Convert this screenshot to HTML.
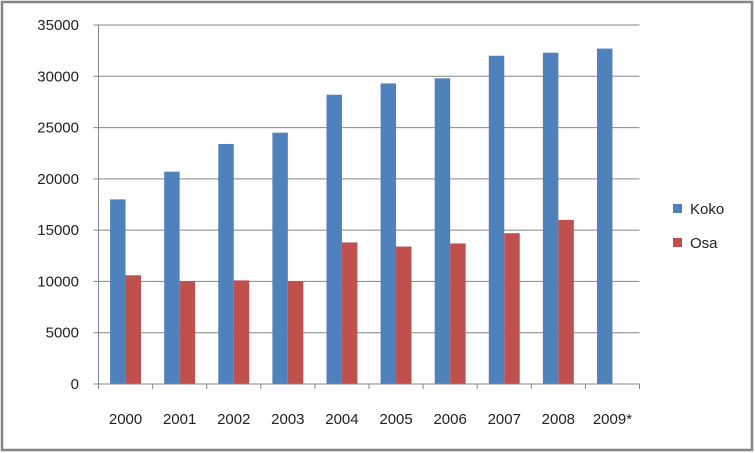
<!DOCTYPE html>
<html><head><meta charset="utf-8"><style>
html,body{margin:0;padding:0;background:#fff}
svg{display:block;font-family:"Liberation Sans",sans-serif}
</style></head><body>
<svg id="chart" width="755" height="453">
<rect x="2" y="2" width="750" height="448" fill="#fff" stroke="#868686" stroke-width="2.5"/>
<g id="grid"></g><g id="bars"></g><g id="axes"></g>
<g>
<g><rect x="673" y="204" width="9" height="9" fill="#4f81bd"/><text x="690" y="214" font-size="15" fill="#222">Koko</text></g>
<g><rect x="673" y="238" width="9" height="9" fill="#c0504d"/><text x="690" y="248" font-size="15" fill="#222">Osa</text></g>
</g>
</svg>
<script>
const categories=["2000","2001","2002","2003","2004","2005","2006","2007","2008","2009*"];
const koko=[18000,20700,23400,24500,28200,29300,29800,32000,32300,32700];
const osa=[10600,10000,10100,10000,13800,13400,13700,14700,16000,0];
const yTicks=[0,5000,10000,15000,20000,25000,30000,35000];
const NS="http://www.w3.org/2000/svg";
const L=98.5,R=639.5,T=25,B=384,yMax=35000;
const cw=(R-L)/categories.length, bw=cw/3.5;
const y=v=>B-(v/yMax)*(B-T);
const x=i=>L+i*cw;
function mk(tag,at,parent){const e=document.createElementNS(NS,tag);for(const k in at)e.setAttribute(k,at[k]);document.getElementById(parent).appendChild(e);return e;}
yTicks.forEach(t=>{
  const l=mk("line",{x1:L-5,x2:R,y1:y(t),y2:y(t),stroke:"#868686","stroke-width":1},"grid");
  
  
  const tx=mk("text",{x:79,y:y(t)+5,"text-anchor":"end","font-size":15,fill:"#222"},"axes");
  tx.textContent=t;
  
  
});
categories.forEach((c,i)=>{
  const x0=x(i)+bw*0.75;
  const b1=mk("rect",{x:x0,y:y(koko[i]),width:bw,height:B-y(koko[i]),fill:"#4f81bd"},"bars");
  
  
  if(osa[i]>0){
    const b2=mk("rect",{x:x0+bw,y:y(osa[i]),width:bw,height:B-y(osa[i]),fill:"#c0504d"},"bars");
    
    
  }
  const tx=mk("text",{x:x(i)+cw/2,y:424,"text-anchor":"middle","font-size":15,fill:"#222"},"axes");
  tx.textContent=c;
  
  
});
for(let i=0;i<=categories.length;i++){
  const tk=mk("line",{x1:x(i),x2:x(i),y1:B,y2:B+5,stroke:"#868686"},"axes");
  
  
}
const ax=mk("line",{x1:L,x2:L,y1:T,y2:B,stroke:"#868686"},"axes");


const xa=mk("line",{x1:L,x2:R,y1:B,y2:B,stroke:"#868686"},"axes");


</script>
</body></html>
